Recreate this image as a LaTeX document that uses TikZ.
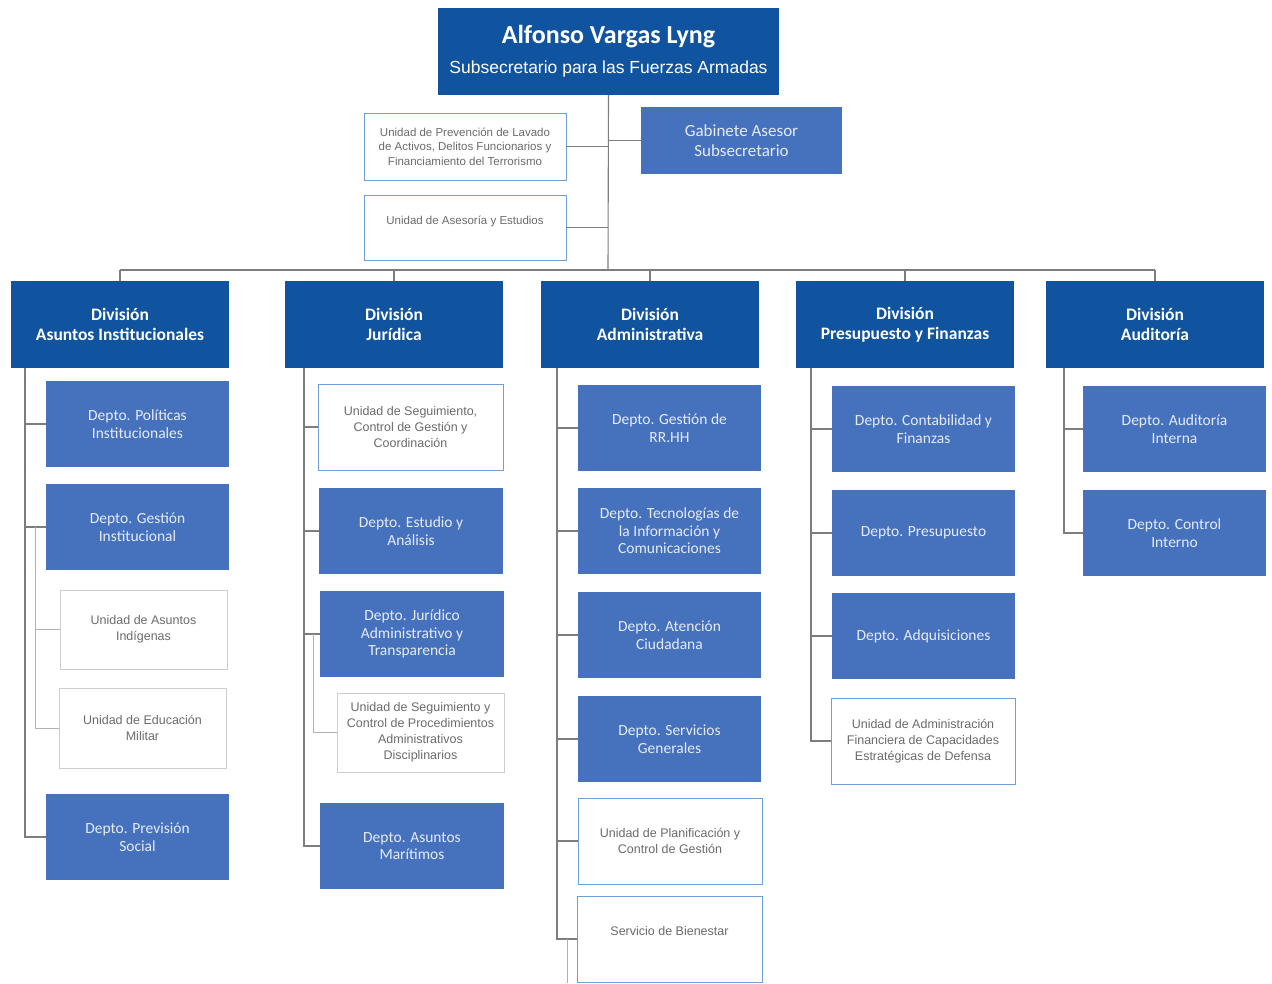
\documentclass[tikz,border=0pt]{standalone}
\usepackage{fontspec}
\setmainfont{Carlito}
\newfontfamily\arialf{Liberation Sans}
\usepackage{tikz}

\definecolor{dblue}{RGB}{16,84,160}
\definecolor{mblue}{RGB}{70,114,189}
\definecolor{ublue}{RGB}{110,160,215}
\definecolor{lgray}{RGB}{205,205,205}
\definecolor{lline}{RGB}{125,125,125}

\begin{document}
\begin{tikzpicture}[x=1pt,y=-1pt,
		box/.style={anchor=north west,inner sep=2pt,outer sep=0pt,align=center},
		top/.style={box,fill=dblue,text=white,minimum width=341pt,minimum height=87pt},
		div/.style={box,fill=dblue,text=white,minimum width=218pt,minimum height=87pt,font=\fontsize{17.5}{20}\selectfont\bfseries},
		dep/.style={box,fill=mblue,text=white!86!mblue,minimum width=183pt,minimum height=86pt,font=\fontsize{15.5}{17.5}\selectfont},
		unit/.style={box,fill=white,draw=ublue,line width=1pt,text=black!58,minimum width=184pt,minimum height=86pt,font=\arialf\fontsize{12.5}{16}\selectfont},
		unitg/.style={unit,draw=lgray,minimum width=167pt,minimum height=79pt},
		conn/.style={draw=lline,line width=1.1pt},
		conn2/.style={draw=lline!60,line width=1pt}]
		\clip (0,0) rectangle (1272,983);
		\fill[white] (0,0) rectangle (1272,983);

		\node[top] (sub) at (438,8) {{\fontsize{26}{28}\selectfont\bfseries Alfonso Vargas Lyng}\\[12pt]{\arialf\fontsize{17.5}{19}\selectfont Subsecretario para las Fuerzas Armadas}};
		\node[dep,minimum width=201pt,minimum height=67pt,font=\fontsize{17}{20}\selectfont] (gab) at (641,107) {Gabinete Asesor\\Subsecretario};
		\node[unit,minimum width=202pt,minimum height=67pt,font=\arialf\fontsize{11.5}{14.5}\selectfont] (lav) at (364,113) {Unidad de Prevención de Lavado\\de Activos, Delitos Funcionarios y\\Financiamiento del Terrorismo};
		\node[unit,minimum width=202pt,minimum height=65pt,font=\arialf\fontsize{11.5}{14.5}\selectfont] (ase) at (364,195) {Unidad de Asesoría y Estudios\\~};

		\node[div] (d1) at (11,281) {División\\Asuntos Institucionales};
		\node[div] (d2) at (285,281) {División\\Jurídica};
		\node[div] (d3) at (541,281) {División\\Administrativa};
		\node[div] (d4) at (796,281) {División\\Presupuesto y Finanzas};
		\node[div] (d5) at (1046,281) {División\\Auditoría};

		\node[dep] (c11) at (46,381) {Depto. Políticas\\Institucionales};
		\node[dep] (c12) at (46,484) {Depto. Gestión\\Institucional};
		\node[unitg] (c13) at (60,590) {Unidad de Asuntos\\Indígenas};
		\node[unitg,minimum height=80pt] (c14) at (59,688) {Unidad de Educación\\Militar};
		\node[dep] (c15) at (46,794) {Depto. Previsión\\Social};

		\node[unit,minimum width=185pt] (c21) at (318,384) {Unidad de Seguimiento,\\Control de Gestión y\\Coordinación};
		\node[dep,minimum width=184pt] (c22) at (319,488) {Depto. Estudio y\\Análisis};
		\node[dep,minimum width=184pt] (c23) at (320,591) {Depto. Jurídico\\Administrativo y\\Transparencia};
		\node[unitg] (c24) at (337,693) {Unidad de Seguimiento y\\Control de Procedimientos\\Administrativos\\Disciplinarios};
		\node[dep,minimum width=184pt] (c25) at (320,803) {Depto. Asuntos\\Marítimos};

		\node[dep] (c31) at (578,385) {Depto. Gestión de\\RR.HH};
		\node[dep] (c32) at (578,488) {Depto. Tecnologías de\\la Información y\\Comunicaciones};
		\node[dep] (c33) at (578,592) {Depto. Atención\\Ciudadana};
		\node[dep] (c34) at (578,696) {Depto. Servicios\\Generales};
		\node[unit] (c35) at (578,798) {Unidad de Planificación y\\Control de Gestión};
		\node[unit,minimum width=185pt] (c36) at (577,896) {Servicio de Bienestar\\~};

		\node[dep] (c41) at (832,386) {Depto. Contabilidad y\\Finanzas};
		\node[dep] (c42) at (832,490) {Depto. Presupuesto};
		\node[dep] (c43) at (832,593) {Depto. Adquisiciones};
		\node[unit] (c44) at (831,698) {Unidad de Administración\\Financiera de Capacidades\\Estratégicas de Defensa};

		\node[dep] (c51) at (1083,386) {Depto. Auditoría\\Interna};
		\node[dep] (c52) at (1083,490) {Depto. Control\\Interno};

		\coordinate (bar) at (608,270);
		\draw[conn] (sub.south) -- (bar);
		\draw[conn] (lav.east) -- (lav.east -| bar);
		\draw[conn] (ase.east) -- (ase.east -| bar);
		\draw[conn] (gab.west -| bar) -- (gab.west);
		\draw[conn] (d1.north |- bar) -- (d5.north |- bar);
		\foreach \d in {d1,d2,d3,d4,d5}
			\draw[conn] (\d.north |- bar) -- (\d.north);

		\coordinate (s1) at (25,368);
		\coordinate (s2) at (304,368);
		\coordinate (s3) at (557,368);
		\coordinate (s4) at (811,368);
		\coordinate (s5) at (1064,368);
		\coordinate (i1) at (35,0);
		\coordinate (i2) at (313,0);
		\coordinate (t3) at (567,983);

		\draw[conn] (s1) -- (s1 |- c15.west) -- (c15.west);
		\draw[conn] (s2) -- (s2 |- c25.west) -- (c25.west);
		\draw[conn] (s3) -- (s3 |- c36.west) -- (c36.west);
		\draw[conn] (s4) -- (s4 |- c44.west) -- (c44.west);
		\draw[conn] (s5) -- (s5 |- c52.west) -- (c52.west);
		\foreach \c in {c11,c12}
			\draw[conn] (s1 |- \c.west) -- (\c.west);
		\foreach \c in {c21,c22,c23}
			\draw[conn] (s2 |- \c.west) -- (\c.west);
		\foreach \c in {c31,c32,c33,c34,c35}
			\draw[conn] (s3 |- \c.west) -- (\c.west);
		\foreach \c in {c41,c42,c43}
			\draw[conn] (s4 |- \c.west) -- (\c.west);
		\draw[conn] (s5 |- c51.west) -- (c51.west);

		\draw[conn2] (i1 |- c12.west) -- (i1 |- c14.west) -- (c14.west);
		\draw[conn2] (i1 |- c13.west) -- (c13.west);
		\draw[conn2] (i2 |- c23.west) -- (i2 |- c24.west) -- (c24.west);
		\draw[conn2] (t3 |- c36.west) -- (t3);
	\end{tikzpicture}
\end{document}
